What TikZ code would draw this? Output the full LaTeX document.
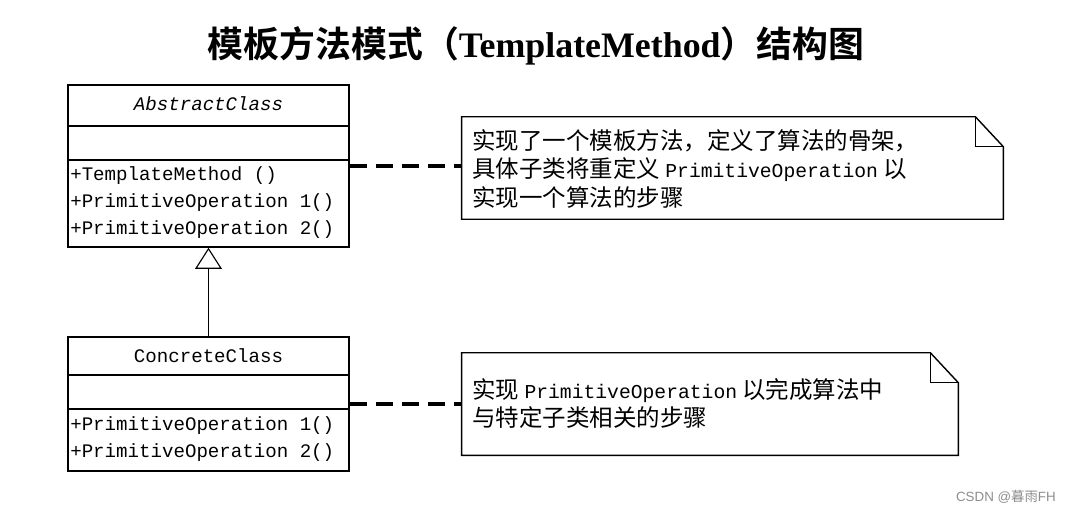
\documentclass[tikz,border=0pt]{standalone}
\usepackage{fontspec}
\setmainfont{Liberation Serif}
\setmonofont{Liberation Mono}
\newfontfamily\cjk{Noto Sans CJK SC}
\newfontfamily\cjkbold{Noto Sans CJK SC Bold}
\newfontfamily\wmfont{Liberation Sans}
\usetikzlibrary{arrows.meta}

\newcommand{\clsfont}{\ttfamily\fontsize{13.6}{16}\selectfont}
\newcommand{\notefont}{\cjk\fontsize{16.7}{20.3}\selectfont}
\newcommand{\mono}[1]{{\ttfamily\fontsize{14}{16}\selectfont #1}}

\tikzset{
  classbox/.style={draw, line width=1pt, minimum width=7.025cm, inner sep=0pt},
  member/.style={anchor=west, inner sep=0pt, font=\clsfont},
  notebox/.style={inner sep=0pt, minimum height=2.55cm},
  notetext/.style={anchor=north west, inner sep=0pt, align=left, font=\notefont},
  dashlink/.style={line width=2.8pt, dash pattern=on 12pt off 6.5pt}
}

\begin{document}
\begin{tikzpicture}[x=0.025cm, y=-0.025cm]
    \useasboundingbox (0,0) rectangle (1066,513);

    \node (title) at (536,46) {\fontsize{25.5}{30}\selectfont{\cjkbold 模板方法模式（}\textbf{TemplateMethod}{\cjkbold ）结构图}};

    % abstract class
    \node (abs) [classbox, minimum height=4.05cm] at (208.5,166) {};
    \draw[line width=1pt] (abs.west |- 0,126) -- (abs.east |- 0,126);
    \draw[line width=1pt] (abs.west |- 0,160) -- (abs.east |- 0,160);
    \node (absname) [inner sep=0pt, font=\clsfont\itshape] at (208.5,104) {AbstractClass};
    \node (absop0) [member] at (70,176) {+TemplateMethod ()};
    \node (absop1) [member] at (70,203) {+PrimitiveOperation 1()};
    \node (absop2) [member] at (70,230) {+PrimitiveOperation 2()};

    % concrete class
    \node (conc) [classbox, minimum height=3.35cm] at (208.5,404) {};
    \draw[line width=1pt] (conc.west |- 0,375) -- (conc.east |- 0,375);
    \draw[line width=1pt] (conc.west |- 0,409) -- (conc.east |- 0,409);
    \node (concname) [inner sep=0pt, font=\clsfont] at (208.5,356) {ConcreteClass};
    \node (concop1) [member] at (70,426) {+PrimitiveOperation 1()};
    \node (concop2) [member] at (70,453) {+PrimitiveOperation 2()};

    \draw[line width=0.8pt, -{Triangle[open, length=15pt, width=19pt]}] (conc.north) -- (abs.south);

    % notes
    \node (note1) [notebox, minimum width=13.525cm] at (732.5,168) {};
    \draw[line width=1pt] (note1.north west) -- ([xshift=-0.7cm]note1.north east) -- ([yshift=-0.75cm]note1.north east) -- (note1.south east) -- (note1.south west) -- cycle;
    \draw[line width=1pt] ([xshift=-0.7cm]note1.north east) -- ([xshift=-0.7cm,yshift=-0.75cm]note1.north east) -- ([yshift=-0.75cm]note1.north east);
    \node (text1) [notetext] at (472,129) {实现了一个模板方法，定义了算法的骨架，\\具体子类将重定义 \mono{PrimitiveOperation} 以\\实现一个算法的步骤};

    \node (note2) [notebox, minimum width=12.4cm] at (710,404) {};
    \draw[line width=1pt] (note2.north west) -- ([xshift=-0.7cm]note2.north east) -- ([yshift=-0.75cm]note2.north east) -- (note2.south east) -- (note2.south west) -- cycle;
    \draw[line width=1pt] ([xshift=-0.7cm]note2.north east) -- ([xshift=-0.7cm,yshift=-0.75cm]note2.north east) -- ([yshift=-0.75cm]note2.north east);
    \node (text2) [notetext] at (472,378) {实现 \mono{PrimitiveOperation} 以完成算法中\\与特定子类相关的步骤};

    \draw[dashlink] (abs.east) -- (abs.east -| note1.west);
    \draw[dashlink] (conc.east) -- (conc.east -| note2.west);

    \node (mark) [anchor=east, inner sep=0pt, text=black!45, font=\wmfont\fontsize{9.5}{11}\selectfont] at (1056,497) {CSDN @{\cjk 暮雨}FH};
\end{tikzpicture}
\end{document}
